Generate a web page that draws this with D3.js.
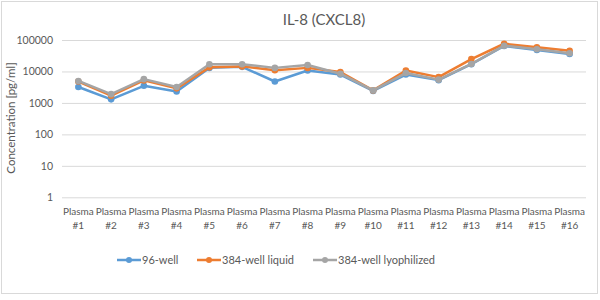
<!DOCTYPE html>
<html>
<head>
<meta charset="utf-8">
<script src="https://cdn.jsdelivr.net/npm/d3@7"></script>
<style>
  body { margin: 0; background: white; }
  text { font-family: Lato, "Open Sans", sans-serif; fill: #595959; }
</style>
</head>
<body>
<div id="main"></div>
<script>
var width = 600,
    height = 300;

// data
var categories = ["Plasma #1","Plasma #2","Plasma #3","Plasma #4","Plasma #5","Plasma #6","Plasma #7","Plasma #8",
                  "Plasma #9","Plasma #10","Plasma #11","Plasma #12","Plasma #13","Plasma #14","Plasma #15","Plasma #16"];
var well96      = [3200, 1300, 3500, 2300, 13000, 14000, 4800, 10700, 8000, 2400, 8000, 5300, 17000, 65000, 48000, 36000];
var well384liq  = [4800, 1700, 5200, 2900, 13500, 14500, 11000, 13000, 9600, 2500, 10700, 6600, 24800, 76000, 59000, 45500];
var well384lyo  = [5000, 1900, 5700, 3200, 17000, 17000, 13000, 16000, 8500, 2500, 8900, 5500, 17300, 66000, 51000, 38000];
var yTicks = [1, 10, 100, 1000, 10000, 100000];

var seriesNames = ["96-well", "384-well liquid", "384-well lyophilized"];
var seriesColors = ["#5B9BD5", "#ED7D31", "#A5A5A5"];
var seriesData = [well96, well384liq, well384lyo];

var svg = d3.select("#main")
  .append("svg")
  .attr("width", width)
  .attr("height", height);

// chart frame
svg.append("rect")
  .attr("x", 1.5).attr("y", 1.5)
  .attr("width", 596).attr("height", 292)
  .attr("fill", "white")
  .attr("stroke", "#d9d9d9");

svg.append("text")
  .attr("x", 324).attr("y", 25)
  .attr("text-anchor", "middle")
  .style("font-size", "15px")
  .text("IL-8 (CXCL8)");

var x = d3.scaleBand()
  .domain(categories)
  .range([62, 586]);

var y = d3.scaleLog()
  .domain([1, 100000])
  .range([197.3, 40]);

// gridlines + y labels
var yAxis = d3.axisLeft(y)
  .tickValues(yTicks)
  .tickFormat(d3.format("d"))
  .tickSize(-(586 - 62))
  .tickPadding(9);

var gy = svg.append("g")
  .attr("transform", "translate(62,0)")
  .call(yAxis);
gy.select(".domain").remove();
gy.selectAll(".tick line").attr("stroke", "#d9d9d9").attr("stroke-width", 1);
gy.selectAll(".tick text")
  .style("font-size", "10.5px")
  .attr("fill", "#595959");

svg.append("text")
  .attr("transform", "translate(15,118) rotate(-90)")
  .attr("text-anchor", "middle")
  .style("font-size", "11.5px")
  .text("Concentration  [pg/ml]");

// x labels, two lines
var xl = svg.append("g").selectAll("text")
  .data(categories)
  .enter().append("text")
  .attr("text-anchor", "middle")
  .style("font-size", "10px");
xl.append("tspan")
  .attr("x", function(d){ return x(d) + x.bandwidth() / 2; })
  .attr("y", 215)
  .text(function(d){ return d.split(" ")[0]; });
xl.append("tspan")
  .attr("x", function(d){ return x(d) + x.bandwidth() / 2; })
  .attr("y", 229)
  .text(function(d){ return d.split(" ")[1]; });

// lines
var line = d3.line()
  .x(function(d, i){ return x(categories[i]) + x.bandwidth() / 2; })
  .y(function(d){ return y(d); });

seriesData.forEach(function(vals, si){
  var g = svg.append("g");
  g.append("path")
    .datum(vals)
    .attr("fill", "none")
    .attr("stroke", seriesColors[si])
    .attr("stroke-width", 2.5)
    .attr("stroke-linejoin", "round")
    .attr("d", line);
  g.selectAll("circle")
    .data(vals)
  .enter().append("circle")
    .attr("cx", function(d, i){ return x(categories[i]) + x.bandwidth() / 2; })
    .attr("cy", function(d){ return y(d); })
    .attr("r", 3.3)
    .attr("fill", seriesColors[si]);
});

// legend
var legendX = [117, 197, 313];
var leg = svg.append("g").selectAll("g")
  .data(seriesNames)
  .enter().append("g")
  .attr("transform", function(d, i){ return "translate(" + legendX[i] + ",260)"; });
leg.append("line")
  .attr("x1", 0).attr("x2", 24)
  .attr("stroke", function(d, i){ return seriesColors[i]; })
  .attr("stroke-width", 2.5);
leg.append("circle")
  .attr("cx", 12).attr("r", 3)
  .attr("fill", function(d, i){ return seriesColors[i]; });
leg.append("text")
  .attr("x", 25).attr("y", 4)
  .style("font-size", "11px")
  .text(function(d){ return d; });
</script>
</body>
</html>
